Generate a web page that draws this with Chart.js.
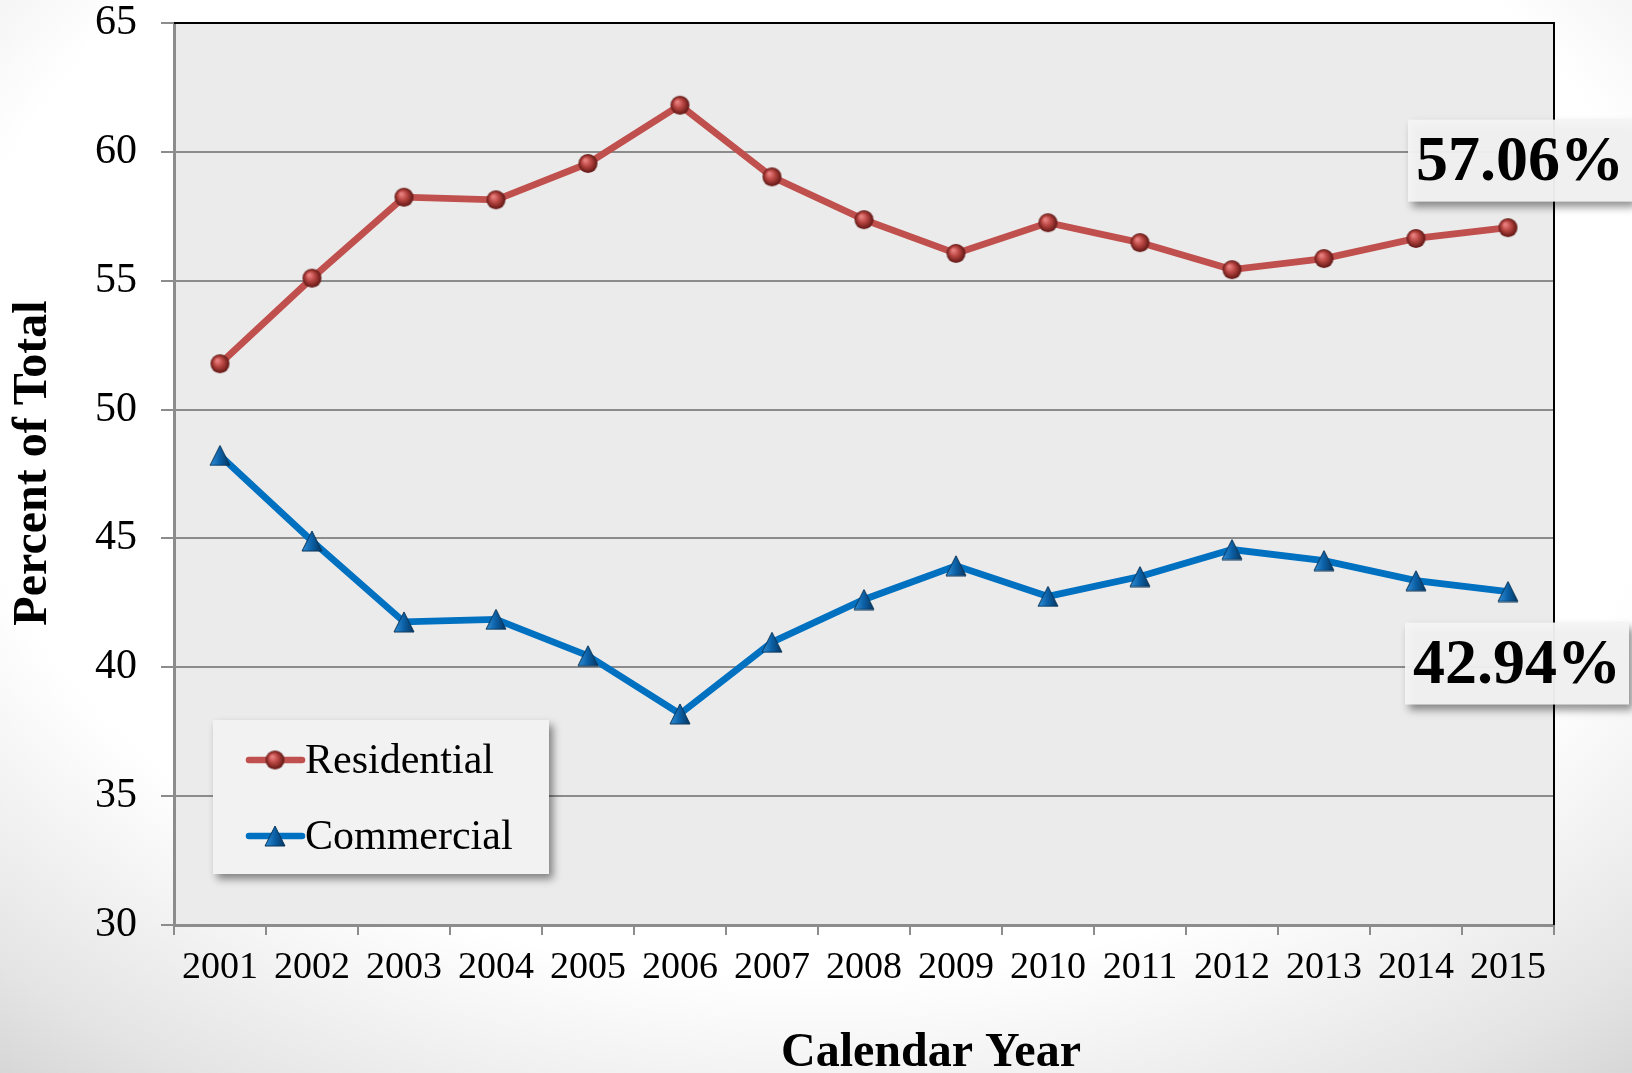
<!DOCTYPE html>
<html>
<head>
<meta charset="utf-8">
<script src="https://cdn.jsdelivr.net/npm/chart.js@4.4.1/dist/chart.umd.min.js"></script>
<style>
  html, body { margin: 0; padding: 0; }
  body {
    width: 1632px; height: 1073px; overflow: hidden;
    background: radial-gradient(ellipse 80% 85% at 50% 35%, #ffffff 66%, #e4e4e4 90%, #d5d5d5 100%);
  }
  #wrap { position: relative; width: 1632px; height: 1073px; }
</style>
</head>
<body>
<div id="wrap"><canvas id="shareChart"></canvas></div>
<script>
// Data
const years = ['2001', '2002', '2003', '2004', '2005', '2006', '2007', '2008',
               '2009', '2010', '2011', '2012', '2013', '2014', '2015'];
const residential = [51.78, 55.10, 58.24, 58.14, 59.55, 61.81, 59.03, 57.37,
                     56.06, 57.25, 56.48, 55.43, 55.86, 56.64, 57.06];
const commercial = [48.22, 44.90, 41.76, 41.86, 40.45, 38.19, 40.97, 42.63,
                    43.94, 42.75, 43.52, 44.57, 44.14, 43.36, 42.94];
const yMin = 30, yMax = 65, yStep = 5;
const xTitle = 'Calendar Year';
const yTitle = 'Percent of Total';

const SERIF = "'Liberation Serif', 'Times New Roman', serif";
const GRID = '#8c8c8c';

// 3D-ish marker images
function makeBall(r) {
    const c = document.createElement('canvas');
    c.width = c.height = r * 2 + 2;
    const g = c.getContext('2d');
    const cx = r + 1, cy = r + 1;
    const grad = g.createRadialGradient(cx - r * 0.3, cy - r * 0.35, r * 0.1, cx, cy, r);
    grad.addColorStop(0, '#e88080');
    grad.addColorStop(0.45, '#b84541');
    grad.addColorStop(1, '#5e1614');
    g.fillStyle = grad;
    g.beginPath();
    g.arc(cx, cy, r, 0, Math.PI * 2);
    g.fill();
    return c;
}

function makeTriangle(w, h) {
    const c = document.createElement('canvas');
    c.width = w + 2; c.height = h + 2;
    const g = c.getContext('2d');
    const grad = g.createLinearGradient(1, 0, w + 1, 0);
    grad.addColorStop(0, '#2f8fd8');
    grad.addColorStop(0.5, '#0b5fa5');
    grad.addColorStop(1, '#06365f');
    g.beginPath();
    g.moveTo(1 + w / 2, 1);
    g.lineTo(1 + w, 1 + h);
    g.lineTo(1, 1 + h);
    g.closePath();
    g.fillStyle = grad;
    g.fill();
    g.strokeStyle = '#0a3558';
    g.lineWidth = 1;
    g.stroke();
    return c;
}

const ball = makeBall(9.5);
const tri = makeTriangle(20, 20);

// plot background + black top/right frame
const plotFrame = {
    id: 'plotFrame',
    beforeDraw(chart) {
        const { ctx, chartArea: a } = chart;
        ctx.save();
        ctx.fillStyle = '#ebebeb';
        ctx.fillRect(a.left, a.top, a.right - a.left, a.bottom - a.top);
        ctx.restore();
    },
    beforeDatasetsDraw(chart) {
        const { ctx, chartArea: a } = chart;
        ctx.save();
        ctx.strokeStyle = '#000';
        ctx.lineWidth = 2;
        ctx.beginPath();
        ctx.moveTo(a.left, a.top);
        ctx.lineTo(a.right, a.top);
        ctx.lineTo(a.right, a.bottom);
        ctx.stroke();
        ctx.restore();
    }
};

function shadowBox(ctx, x, y, w, h, fill) {
    ctx.save();
    ctx.shadowColor = 'rgba(0,0,0,0.45)';
    ctx.shadowBlur = 8;
    ctx.shadowOffsetX = 4;
    ctx.shadowOffsetY = 5;
    ctx.fillStyle = fill;
    ctx.fillRect(x, y, w, h);
    ctx.restore();
}

// axis titles, legend box inside the plot, end-value callouts
const overlays = {
    id: 'overlays',
    afterDraw(chart) {
        const { ctx, chartArea: a } = chart;
        const sets = chart.data.datasets;

        // axis titles
        ctx.save();
        ctx.fillStyle = '#000';
        ctx.font = 'bold 48px ' + SERIF;
        ctx.textAlign = 'center';
        ctx.textBaseline = 'middle';
        ctx.fillText(xTitle, 931, 1054);
        ctx.translate(34, 463);
        ctx.rotate(-Math.PI / 2);
        ctx.fillText(yTitle, 0, 0);
        ctx.restore();

        // legend
        shadowBox(ctx, 213, 720, 336, 154, '#f2f2f2');
        const rows = [760, 836];
        sets.forEach((ds, i) => {
            const y = rows[i];
            ctx.save();
            ctx.strokeStyle = ds.borderColor;
            ctx.lineWidth = 6.5;
            ctx.lineCap = 'round';
            ctx.beginPath();
            ctx.moveTo(249, y);
            ctx.lineTo(302, y);
            ctx.stroke();
            const img = ds.pointStyle;
            ctx.drawImage(img, 275 - img.width / 2, y - img.height / 2);
            ctx.fillStyle = '#000';
            ctx.font = '42px ' + SERIF;
            ctx.textBaseline = 'middle';
            ctx.textAlign = 'left';
            ctx.fillText(ds.label, 305, y + 2);
            ctx.restore();
        });

        // callouts at the last point
        const offs = [[12, -67], [9, 72]];
        sets.forEach((ds, i) => {
            const meta = chart.getDatasetMeta(i);
            const pt = meta.data[meta.data.length - 1];
            const v = ds.data[ds.data.length - 1];
            const cx = pt.x + offs[i][0], cy = pt.y + offs[i][1];
            const w = 224, h = 82;
            shadowBox(ctx, cx - w / 2, cy - h / 2, w, h, 'rgba(244,244,244,0.95)');
            ctx.save();
            ctx.fillStyle = '#000';
            ctx.font = 'bold 64px ' + SERIF;
            ctx.textAlign = 'center';
            ctx.textBaseline = 'middle';
            ctx.fillText(v.toFixed(2) + '%', cx, cy + 3);
            ctx.restore();
        });
    }
};

new Chart(document.getElementById('shareChart'), {
    type: 'line',
    data: {
        labels: years,
        datasets: [{
            label: 'Residential',
            data: residential,
            borderColor: '#c0504d',
            borderWidth: 6.8,
            pointStyle: ball,
            pointRadius: 9,
            tension: 0,
            fill: false
        }, {
            label: 'Commercial',
            data: commercial,
            borderColor: '#0070c0',
            borderWidth: 6.8,
            pointStyle: tri,
            pointRadius: 9,
            tension: 0,
            fill: false
        }]
    },
    options: {
        responsive: true,
        maintainAspectRatio: false,
        animation: false,
        layout: { padding: { top: 23, right: 78, left: 0, bottom: 0 } },
        plugins: {
            legend: { display: false },
            tooltip: { enabled: false }
        },
        scales: {
            x: {
                offset: true,
                afterFit: s => { s.height = 148; s.paddingLeft = 0; s.paddingRight = 0; },
                grid: {
                    offset: true,
                    drawOnChartArea: false,
                    color: GRID,
                    lineWidth: 2,
                    tickLength: 10
                },
                border: { color: GRID, width: 3 },
                ticks: {
                    color: '#000',
                    font: { family: SERIF, size: 38 },
                    padding: 10,
                    maxRotation: 0,
                    autoSkip: false
                }
            },
            y: {
                min: yMin,
                max: yMax,
                afterFit: s => { s.width = 174; s.paddingTop = 0; s.paddingBottom = 0; },
                grid: { color: GRID, lineWidth: 2, tickLength: 13 },
                border: { color: GRID, width: 3 },
                ticks: {
                    stepSize: yStep,
                    color: '#000',
                    font: { family: SERIF, size: 42 },
                    padding: 24
                }
            }
        }
    },
    plugins: [plotFrame, overlays]
});
</script>
</body>
</html>
